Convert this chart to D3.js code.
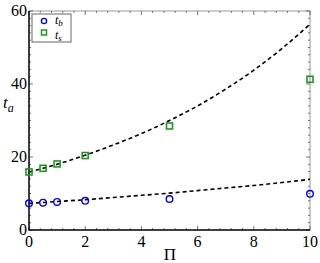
<!DOCTYPE html>
<html lang="en">
<head>
<meta charset="utf-8">
<script src="https://cdn.jsdelivr.net/npm/d3@7"></script>
<style>
  html, body { margin:0; padding:0; overflow:hidden; background:#fff }
  text { font-family: "Liberation Serif", "DejaVu Serif", serif; }
</style>
</head>
<body>
<svg id="chart" width="320" height="263"></svg>
<script>
// data
var piVals = [0, 0.5, 1, 2, 5, 10];
var tb = [7.3, 7.5, 7.7, 8.0, 8.5, 9.9];
var ts = [15.9, 16.9, 18.1, 20.4, 28.5, 41.3];
// dashed fit curves
var fitX = [0, 1, 2, 3, 4, 5, 6, 7, 8, 9, 10];
var fitTs = [15.9, 18.0, 20.5, 23.3, 26.4, 30.0, 34.0, 38.6, 43.8, 49.7, 56.4];
var fitTb = [7.3, 7.8, 8.3, 8.9, 9.5, 10.1, 10.8, 11.5, 12.2, 13.0, 13.9];
var xTicks = [0, 2, 4, 6, 8, 10];
var yTicks = [0, 20, 40, 60];

var m = {left: 29, right: 10, top: 11, bottom: 33};
var W = 320, H = 263;
var svg = d3.select("#chart");
var x = d3.scaleLinear().domain([0, 10]).range([m.left, W - m.right]);
var y = d3.scaleLinear().domain([0, 60]).range([H - m.bottom, m.top]);

var x0 = x(0), x1 = x(10), y0 = y(0), y1 = y(60);

// frame: top/right grey
svg.append("path")
   .attr("d", "M" + x0 + "," + y1 + "H" + x1 + "V" + y0)
   .attr("fill", "none").attr("stroke", "#999").attr("stroke-width", 1);

// minor + major ticks
var g = svg.append("g").attr("stroke", "#555").attr("stroke-width", 0.8);
d3.range(0, 10.001, 0.4).forEach(function(v) {
  var major = xTicks.indexOf(Math.round(v * 10) / 10) >= 0;
  var len = major ? 4 : 2;
  g.append("line").attr("x1", x(v)).attr("x2", x(v)).attr("y1", y0).attr("y2", y0 - len);
  g.append("line").attr("x1", x(v)).attr("x2", x(v)).attr("y1", y1).attr("y2", y1 + len);
});
d3.range(0, 60.001, 2).forEach(function(v) {
  var major = v % 20 === 0;
  var len = major ? 4 : 2;
  g.append("line").attr("x1", x0).attr("x2", x0 + len).attr("y1", y(v)).attr("y2", y(v));
  g.append("line").attr("x1", x1).attr("x2", x1 - len).attr("y1", y(v)).attr("y2", y(v));
});

// left/bottom black axes
svg.append("path")
   .attr("d", "M" + x0 + "," + y1 + "V" + y0 + "H" + x1)
   .attr("fill", "none").attr("stroke", "#000").attr("stroke-width", 1.5);

// tick labels
svg.selectAll(".xt").data(xTicks).enter().append("text")
   .attr("x", function(d) { return x(d); }).attr("y", y0 + 17)
   .attr("text-anchor", "middle").attr("font-size", 16)
   .text(function(d) { return d; });
svg.selectAll(".yt").data(yTicks).enter().append("text")
   .attr("x", x0 - 2).attr("y", function(d) { return y(d) + 5; })
   .attr("text-anchor", "end").attr("font-size", 16)
   .text(function(d) { return d; });

// axis titles
svg.append("text").attr("x", 170).attr("y", 260).attr("text-anchor", "middle")
   .attr("font-size", 17).text("\u03A0");
var ya = svg.append("text").attr("x", 3).attr("y", 108).attr("font-size", 17)
   .attr("font-style", "italic");
ya.append("tspan").text("t");
ya.append("tspan").attr("font-size", 12).attr("dy", 4).text("a");

// dashed curves
var line = d3.line().curve(d3.curveMonotoneX)
   .x(function(d) { return x(d[0]); }).y(function(d) { return y(d[1]); });
[fitTs, fitTb].forEach(function(arr) {
  svg.append("path")
     .attr("d", line(fitX.map(function(v, i) { return [v, arr[i]]; })))
     .attr("fill", "none").attr("stroke", "#000").attr("stroke-width", 1.6)
     .attr("stroke-dasharray", "4,3");
});

// markers
svg.selectAll(".tb").data(piVals).enter().append("circle")
   .attr("cx", function(d) { return x(d); })
   .attr("cy", function(d, i) { return y(tb[i]); })
   .attr("r", 3.3).attr("fill", "none").attr("stroke", "#0000ff").attr("stroke-width", 1.4);
svg.selectAll(".ts").data(piVals).enter().append("rect")
   .attr("x", function(d) { return x(d) - 3; })
   .attr("y", function(d, i) { return y(ts[i]) - 3; })
   .attr("width", 6).attr("height", 6)
   .attr("fill", "none").attr("stroke", "#1a9a1a").attr("stroke-width", 1.6);

// legend
svg.append("rect").attr("x", 32).attr("y", 14).attr("width", 39).attr("height", 28)
   .attr("fill", "#fff").attr("stroke", "#666").attr("stroke-width", 1);
svg.append("circle").attr("cx", 44).attr("cy", 21).attr("r", 2.6)
   .attr("fill", "none").attr("stroke", "#0000ff").attr("stroke-width", 1.4);
svg.append("rect").attr("x", 41.5).attr("y", 30).attr("width", 5).attr("height", 5)
   .attr("fill", "none").attr("stroke", "#1a9a1a").attr("stroke-width", 1.5);
var lb = svg.append("text").attr("x", 55).attr("y", 24).attr("font-size", 12).attr("font-style", "italic");
lb.append("tspan").text("t");
lb.append("tspan").attr("font-size", 9).attr("dy", 2).text("b");
var ls = svg.append("text").attr("x", 55).attr("y", 38.5).attr("font-size", 12).attr("font-style", "italic");
ls.append("tspan").text("t");
ls.append("tspan").attr("font-size", 9).attr("dy", 2).text("s");
</script>
</body>
</html>
